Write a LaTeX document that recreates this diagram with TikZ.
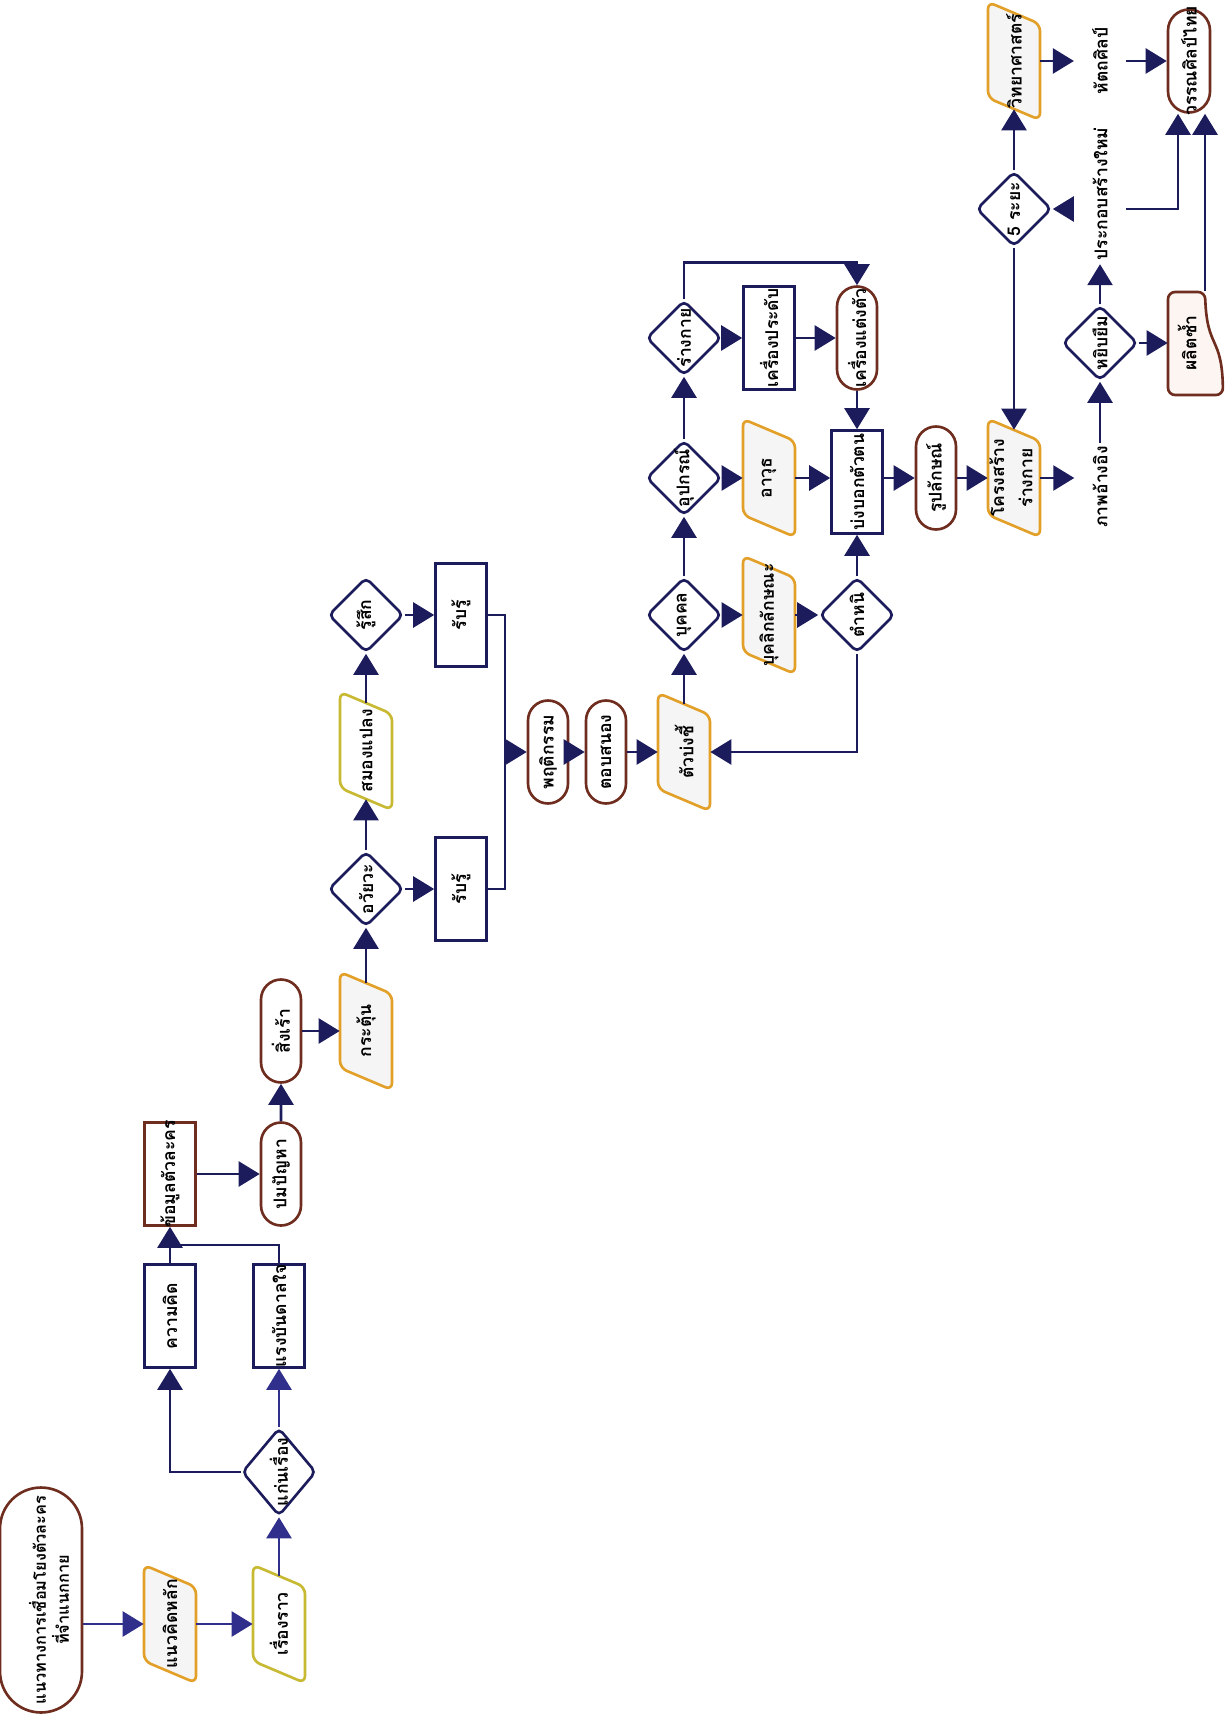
\documentclass[tikz,border=0pt]{standalone}
\usepackage{fontspec}
\setmainfont{Loma}[Script=Thai]
\usepackage{tikz}
\usetikzlibrary{arrows.meta, positioning, shapes.geometric, shapes.misc, calc, backgrounds}

\definecolor{navy}{RGB}{28,28,92}
\definecolor{bluearr}{RGB}{48,48,140}
\definecolor{brownline}{RGB}{110,45,30}
\definecolor{orangeline}{RGB}{226,160,40}
\definecolor{oliveline}{RGB}{200,185,50}
\definecolor{grayfill}{RGB}{245,245,245}
\definecolor{pinkfill}{RGB}{252,245,242}

\begin{document}
\begin{tikzpicture}[
    x=0.02cm, y=-0.02cm,
    every node/.style={font=\bfseries\fontsize{10}{12}\selectfont, rotate=90},
    fixed/.style={inner sep=0pt,
                  execute at begin node={\hbox to 0pt\bgroup\hss},
                  execute at end node={\hss\egroup}},
    box/.style={fixed, rectangle, draw=navy, fill=white, line width=1.5pt,
                minimum width=2.06cm, minimum height=1.02cm},
    term/.style={fixed, rounded rectangle, draw=brownline, fill=white,
                 line width=1.5pt, minimum width=2.06cm, minimum height=0.8cm},
    para/.style={fixed, rectangle, minimum width=1.92cm, minimum height=1.04cm},
    paraline/.style={draw=orangeline, fill=grayfill, line width=1.5pt,
                     rounded corners=4pt},
    dia/.style={fixed, diamond, draw=navy, fill=white, line width=1.5pt,
                rounded corners=3pt, minimum width=1.5cm, minimum height=1.5cm},
    txt/.style={inner xsep=2pt, inner ysep=0.36cm},
    arr/.style={-{Triangle[length=0.42cm, width=0.5cm]}, draw=navy, line width=1.5pt},
    arrb/.style={arr, draw=bluearr},
    line/.style={draw=navy, line width=1.5pt}
  ]
  \useasboundingbox (0,0) rectangle (1225,1716);

  % Story: guide -> idea -> story -> theme
  \node[term, minimum width=4.5cm, minimum height=1.64cm,
        font=\bfseries\fontsize{9.3}{11.5}\selectfont] (guide) at (41,1600)
    {\raisebox{-0.3cm}[0pt][0pt]{\begin{tabular}{@{}c@{}}แนวทางการเชื่อมโยงตัวละคร\\ที่จำแนกกาย\end{tabular}}};
  \node[para] (idea) at (170,1624) {แนวคิดหลัก};
  \node[para] (story) at (279,1624) {เรื่องราว};
  \node[dia, minimum width=1.76cm, minimum height=1.48cm] (theme) at (279,1472) {แก่นเรื่อง};
  \draw[arrb] (guide.south |- idea) -- (idea);
  \draw[arrb] (idea) -- (story);
  \draw[arrb] (story) -- (theme);

  % Theme -> character data
  \node[box] (thought) at (170,1316) {ความคิด};
  \node[box] (inspire) at (279,1316) {แรงบันดาลใจ};
  \node[box, draw=brownline] (chardata) at (170,1174) {ข้อมูลตัวละคร};
  \coordinate (merge) at (170,1245);
  \draw[arr] (theme) -| (thought);
  \draw[arrb] (theme) -- (inspire);
  \draw[arr] (thought) -- (chardata);
  \draw[line] (inspire) |- (merge);

  % Conflict -> stimulus -> senses
  \node[term] (conflict) at (281,1174) {ปมปัญหา};
  \node[term] (stimulus) at (281,1031) {สิ่งเร้า};
  \node[para] (trigger) at (366,1031) {กระตุ้น};
  \node[dia] (organ) at (366,889) {อวัยวะ};
  \node[box] (sense1) at (461,889) {รับรู้};
  \node[para] (brain) at (366,751) {สมองแปลง};
  \node[dia] (feel) at (366,615) {รู้สึก};
  \node[box] (sense2) at (461,615) {รับรู้};
  \draw[arr] (chardata) -- (conflict);
  \draw[arr] (conflict) -- (stimulus);
  \draw[arr] (stimulus) -- (trigger);
  \draw[arr] (trigger) -- (organ);
  \draw[arr] (organ) -- (sense1);
  \draw[arr] (organ) -- (brain);
  \draw[arr] (brain) -- (feel);
  \draw[arr] (feel) -- (sense2);

  % Behaviour -> markers
  \coordinate (bus) at (505,752);
  \node[term] (behave) at (548,752) {พฤติกรรม};
  \node[term] (respond) at (606,752) {ตอบสนอง};
  \node[para] (marker) at (684,752) {ตัวบ่งชี้};
  \draw[line] (sense1) -| (bus);
  \draw[line] (sense2) -| (bus);
  \draw[arr] (bus) -- (behave);
  \draw[arr] (behave) -- (respond);
  \draw[arr] (respond) -- (marker);

  % Markers: person, gear, body
  \node[dia] (person) at (684,615) {บุคคล};
  \node[dia] (gear) at (684,478) {อุปกรณ์};
  \node[dia] (body) at (684,338) {ร่างกาย};
  \node[para] (trait) at (769,615) {บุคลิกลักษณะ};
  \node[dia] (flaw) at (857,615) {ตำหนิ};
  \node[para] (weapon) at (769,478) {อาวุธ};
  \node[box] (identity) at (857,482) {บ่งบอกตัวตน};
  \node[box] (jewel) at (769,338) {เครื่องประดับ};
  \node[term] (costume) at (857,338) {เครื่องแต่งตัว};
  \draw[arr] (marker) -- (person);
  \draw[arr] (person) -- (gear);
  \draw[arr] (gear) -- (body);
  \draw[arr] (person) -- (trait);
  \draw[arr] (trait) -- (flaw);
  \draw[arr] (flaw) -- (identity);
  \draw[arr] (flaw) |- (marker);
  \draw[arr] (gear) -- (weapon);
  \draw[arr] (weapon) -- (identity.north |- weapon);
  \draw[arr] (body) -- (jewel);
  \draw[arr] (jewel) -- (costume);
  \draw[arr] (body.east) -- ++(0,-37) -| (costume);
  \draw[arr] (costume) -- (identity);

  % Look -> body frame -> sources
  \node[term] (look) at (936,478) {รูปลักษณ์};
  \node[para] (frame) at (1014,478)
    {\begin{tabular}{@{}c@{}}โครงสร้าง\\[4pt]ร่างกาย\end{tabular}};
  \node[txt] (refimg) at (1100,487) {ภาพอ้างอิง};
  \node[dia] (borrow) at (1100,343) {หยิบยืม};
  \node[txt] (rebuild) at (1100,194) {ประกอบสร้างใหม่};
  \node[dia] (stages) at (1014,209) {5 ระยะ};
  \node[para] (science) at (1014,61) {วิทยาศาสตร์};
  \node[txt] (craft) at (1100,61) {หัตถศิลป์};
  \node[term, minimum height=0.84cm] (lit) at (1189,61) {วรรณศิลป์ไทย};
  \filldraw[draw=brownline, fill=pinkfill, line width=1.5pt, rounded corners=4pt]
    (1205,292) .. controls (1207,350) and (1222,335) .. (1223,395)
    -- (1168,395) -- (1168,292) -- cycle;
  \node[fixed, minimum width=2.06cm, minimum height=0.76cm] (copy) at (1187,343) {ผลิตซ้ำ};
  \coordinate (litL) at ($(lit.west)+(-11,0)$);
  \coordinate (litR) at ($(lit.west)+(16,0)$);
  \draw[arr] (identity.south |- look) -- (look);
  \draw[arr] (look) -- (frame);
  \draw[arr] (frame) -- (refimg.north |- frame);
  \draw[arr] (stages) -- (frame);
  \draw[arr] (refimg) -- (borrow);
  \draw[arr] (borrow) -- (copy);
  \draw[arr] (borrow) -- (rebuild);
  \draw[arr] (rebuild.north |- stages) -- (stages);
  \draw[arr] (rebuild.south |- stages) -| (litL);
  \draw[arr] (litR |- copy.east) -- (litR);
  \draw[arr] (stages) -- (science);
  \draw[arr] (science) -- (craft);
  \draw[arr] (craft) -- (lit);

  % slanted data shapes behind their texts
  \begin{pgfonlayer}{background}
    \foreach \n in {idea, trigger, marker, trait, weapon, frame, science}
      \draw[paraline] ($(\n)+(-26,-59)$) -- ($(\n)+(26,-37)$)
        -- ($(\n)+(26,59)$) -- ($(\n)+(-26,37)$) -- cycle;
    \foreach \n in {story, brain}
      \draw[paraline, draw=oliveline, fill=white] ($(\n)+(-26,-59)$)
        -- ($(\n)+(26,-37)$) -- ($(\n)+(26,59)$) -- ($(\n)+(-26,37)$) -- cycle;
  \end{pgfonlayer}
\end{tikzpicture}
\end{document}
